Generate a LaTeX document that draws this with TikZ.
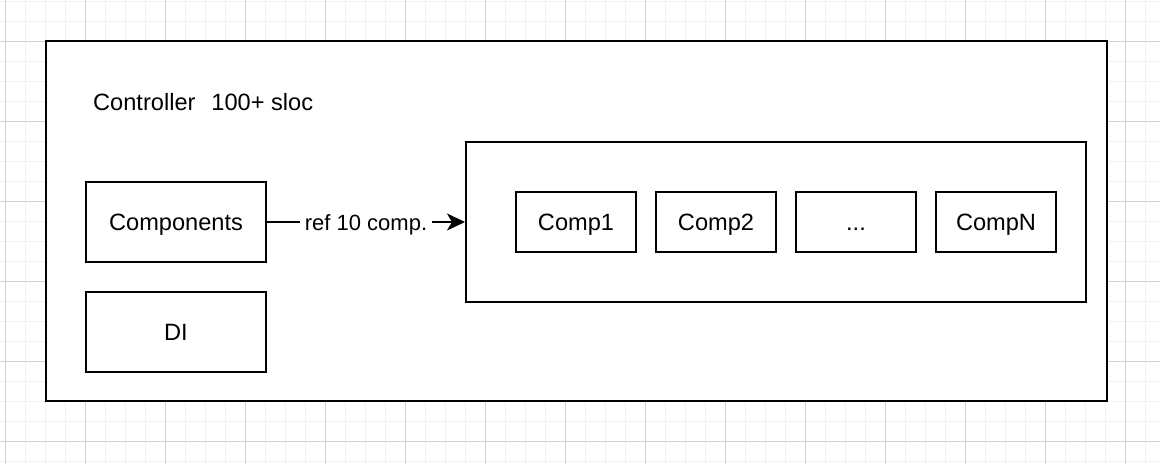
\documentclass[tikz,border=0pt]{standalone}
\usepackage{fontspec}
\setmainfont{Liberation Sans}
\usetikzlibrary{arrows.meta}
\definecolor{gridminor}{RGB}{241,241,241}
\definecolor{gridmajor}{RGB}{210,210,210}

\begin{document}
\begin{tikzpicture}[x=1pt, y=-1pt,
		panel/.style={draw, line width=2pt, fill=white, inner sep=0pt},
		compbox/.style={panel, minimum width=120pt, minimum height=60pt, text height=17pt, text depth=0pt, font=\fontsize{23.6}{28}\selectfont},
		sidebox/.style={panel, minimum width=180pt, minimum height=80pt, text height=17pt, text depth=0pt, font=\fontsize{23.6}{28}\selectfont},
		link/.style={line width=2pt, -{Stealth[length=18pt, width=17pt, inset=5pt]}},
		linklabel/.style={fill=white, inner xsep=5pt, inner ysep=2pt, text height=16pt, text depth=0pt, font=\fontsize{22}{26}\selectfont}]
			%%%%% START %%%%%
			
			\useasboundingbox (0, 0) rectangle (1160, 464);
			\fill[white] (0, 0) rectangle (1160, 464);
			
			% background grid
			\foreach \x in {5, 25, ..., 1160}
				\draw[line width=1pt, color=gridminor] (\x, 0) -- (\x, 464);
			\foreach \y in {1, 21, ..., 464}
				\draw[line width=1pt, color=gridminor] (0, \y) -- (1160, \y);
			\foreach \x in {5, 85, ..., 1160}
				\draw[line width=1pt, color=gridmajor] (\x, 0) -- (\x, 464);
			\foreach \y in {41, 121, ..., 464}
				\draw[line width=1pt, color=gridmajor] (0, \y) -- (1160, \y);
			
			% controller frame
			\node[panel, minimum width=1060.5pt, minimum height=360pt] (controller) at (576.25, 221) {};
			\node[anchor=base west, inner sep=0pt, font=\fontsize{23.6}{28}\selectfont] (title) at (93, 110) {Controller\hspace{16pt}100+ sloc};
			
			\node[sidebox] (components) at (176, 222) {Components};
			\node[sidebox] (di) at (176, 331.5) {DI};
			
			% list of components
			\node[panel, minimum width=620pt, minimum height=160pt] (complist) at (776, 222) {};
			\node[compbox] (comp1) at (576, 222) {Comp1};
			\node[compbox] (comp2) at (716, 222) {Comp2};
			\node[compbox] (compdots) at (856, 222) {...};
			\node[compbox] (compn) at (996, 222) {CompN};
			
			\draw[link] (components.east) -- node[linklabel] (reflabel) {ref 10 comp.} (complist.west);
			
			%%%%% END %%%%%
\end{tikzpicture}
\end{document}
